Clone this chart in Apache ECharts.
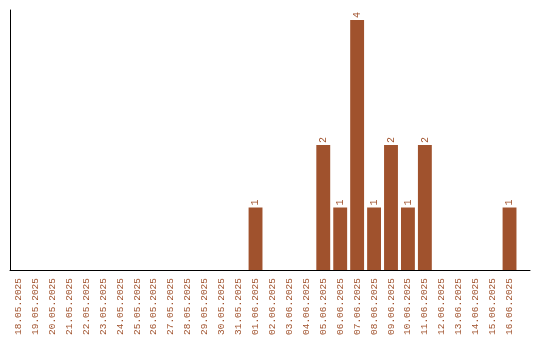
<!DOCTYPE html>
<html><head><meta charset="utf-8">
<script src="https://cdn.jsdelivr.net/npm/echarts@6/dist/echarts.min.js"></script>
<style>html,body{margin:0;padding:0;background:#fff}#c{width:540px;height:340px}</style>
</head><body><div id="c"></div>
<script>
const categories = ['18.05.2025','19.05.2025','20.05.2025','21.05.2025','22.05.2025','23.05.2025','24.05.2025','25.05.2025','26.05.2025','27.05.2025','28.05.2025','29.05.2025','30.05.2025','31.05.2025','01.06.2025','02.06.2025','03.06.2025','04.06.2025','05.06.2025','06.06.2025','07.06.2025','08.06.2025','09.06.2025','10.06.2025','11.06.2025','12.06.2025','13.06.2025','14.06.2025','15.06.2025','16.06.2025'];
const values = [0,0,0,0,0,0,0,0,0,0,0,0,0,0,1,0,0,0,2,1,4,1,2,1,2,0,0,0,0,1];
const color = '#A0522D';
const font = 'Liberation Mono';
const chart = echarts.init(document.getElementById('c'), null, {renderer:'canvas'});
chart.setOption({
  animation:false,
  grid:[{left:10, top:10, width:508, height:260},{left:10, top:10, width:520, height:260}],
  xAxis:[{
    type:'category', data:categories, gridIndex:0,
    axisLine:{show:false}, axisTick:{show:false},
    axisLabel:{rotate:90, color:color, fontFamily:font, fontSize:9.5, margin:8, interval:0}
  },{
    type:'value', gridIndex:1, min:0, max:1,
    axisLine:{show:true, onZero:false, lineStyle:{color:'#000', width:1}},
    axisTick:{show:false}, axisLabel:{show:false}, splitLine:{show:false}
  }],
  yAxis:[{
    type:'value', gridIndex:0, min:0, max:4.16,
    axisLine:{show:true, lineStyle:{color:'#000', width:1}},
    axisTick:{show:false}, axisLabel:{show:false}, splitLine:{show:false}
  },{
    type:'value', gridIndex:1, show:false, min:0, max:1
  }],
  series:[{
    type:'bar', data:values, xAxisIndex:0, yAxisIndex:0,
    barCategoryGap:'18%',
    itemStyle:{color:color},
    label:{show:true, position:'top', rotate:90, align:'left', verticalAlign:'middle', distance:2,
      color:color, fontFamily:font, fontSize:10,
      formatter:p=>p.value?String(p.value):''}
  }]
});
</script></body></html>
